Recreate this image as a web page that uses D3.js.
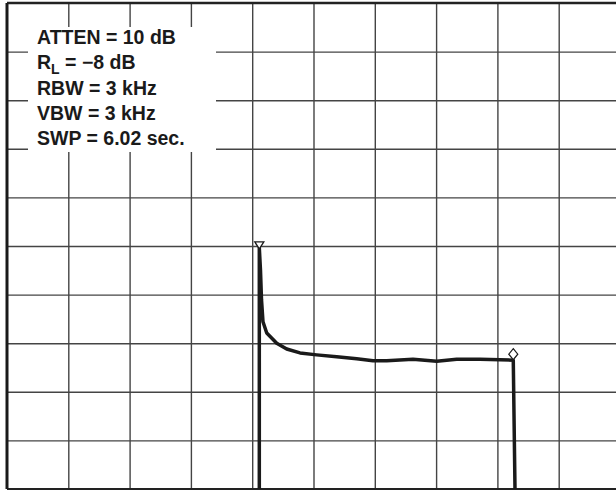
<!DOCTYPE html>
<html>
<head>
<meta charset="utf-8">
<script src="https://cdn.jsdelivr.net/npm/d3@7.9.0/dist/d3.min.js"></script>
<style>
  html, body { margin: 0; padding: 0; background: #fff; }
  svg { display: block; }
  .info { font-family: "Liberation Sans", Arial, Helvetica, sans-serif; font-weight: bold; font-size: 19.5px; fill: #1a1a1a; }
</style>
</head>
<body>
<svg id="chart" width="616" height="491"></svg>
<script>
// ---- data ----
// frequency in divisions (0..10), amplitude in dB (ref level -8 dB, 10 dB/div)
const traceX = [4.116, 4.116, 4.135, 4.152, 4.176, 4.237, 4.400, 4.563, 4.780, 5.052, 5.378, 5.705, 5.971, 6.194, 6.623, 7.010, 7.336, 7.716, 8.259, 8.287];
const traceDb = [-108, -58.4, -62.9, -69.1, -73.6, -75.9, -78.0, -79.2, -80.0, -80.4, -80.8, -81.2, -81.6, -81.6, -81.3, -81.7, -81.3, -81.3, -81.5, -108];
const markerPeak = { x: 4.116, db: -58.4 };   // ▽ marker
const markerDelta = { x: 8.259, db: -81.5 };  // ◇ marker
const infoLines = ['ATTEN = 10 dB', 'R|L| = \u22128 dB', 'RBW = 3 kHz', 'VBW = 3 kHz', 'SWP = 6.02 sec.'];
const refLevel = -8, dbPerDiv = 10, nDiv = 10;

// ---- scales ----
const svg = d3.select('#chart');
const mLeft = 7, mRight = 620, mTop = 3, mBottom = 489;
const x = d3.scaleLinear().domain([0, nDiv]).range([mLeft, mRight]);
const y = d3.scaleLinear().domain([refLevel - dbPerDiv * nDiv, refLevel]).range([mBottom, mTop]);
const yTicks = d3.range(0, nDiv + 1).map(i => refLevel - i * dbPerDiv);

// grid (axes with full-length ticks)
svg.append('g').attr('transform', `translate(0,${mBottom})`)
  .call(d3.axisBottom(x).tickValues(d3.range(1, nDiv)).tickSize(-(mBottom - mTop)).tickFormat(''));
svg.append('g').attr('transform', `translate(${mLeft},0)`)
  .call(d3.axisLeft(y).tickValues(yTicks.slice(1, -1)).tickSize(-(mRight - mLeft)).tickFormat(''));
svg.selectAll('.domain').remove();
svg.selectAll('.tick line').attr('stroke', '#444').attr('stroke-width', 1.4);

// frame
svg.append('line').attr('x1', mLeft).attr('x2', mRight).attr('y1', mTop).attr('y2', mTop)
  .attr('stroke', '#222').attr('stroke-width', 2.5);
svg.append('line').attr('x1', mLeft).attr('x2', mRight).attr('y1', mBottom).attr('y2', mBottom)
  .attr('stroke', '#222').attr('stroke-width', 2);
svg.append('line').attr('x1', mLeft).attr('x2', mLeft).attr('y1', mTop).attr('y2', mBottom)
  .attr('stroke', '#1a1a1a').attr('stroke-width', 3);

// info box
svg.append('rect').attr('x', 28).attr('y', 27).attr('width', 188).attr('height', 125).attr('fill', '#fff');
const info = svg.append('g').attr('class', 'info');
infoLines.forEach((s, i) => {
  const t = info.append('text').attr('x', 37).attr('y', 44 + i * 25.3);
  const parts = s.split('|');
  if (parts.length === 1) { t.text(s); return; }
  t.append('tspan').text(parts[0]);
  t.append('tspan').attr('dy', 5).attr('font-size', 14).text(parts[1]);
  t.append('tspan').attr('dy', -5).text(parts[2]);
});

// trace
svg.append('path').datum(traceX)
  .attr('d', d3.line().x((d, i) => x(traceX[i])).y((d, i) => y(traceDb[i])).curve(d3.curveLinear))
  .attr('fill', 'none').attr('stroke', '#1a1a1a').attr('stroke-width', 3.5)
  .attr('stroke-linejoin', 'round');

// markers
const px = x(markerPeak.x), py = y(markerPeak.db);
svg.append('path')
  .attr('d', `M${px - 4.5},${py - 6} L${px + 4.5},${py - 6} L${px},${py + 1} Z`)
  .attr('fill', '#fff').attr('stroke', '#1a1a1a').attr('stroke-width', 1.3);
const dx = x(markerDelta.x), dy = y(markerDelta.db) - 6;
svg.append('path')
  .attr('d', `M${dx},${dy - 5.5} L${dx + 4.5},${dy} L${dx},${dy + 5.5} L${dx - 4.5},${dy} Z`)
  .attr('fill', '#fff').attr('stroke', '#1a1a1a').attr('stroke-width', 1.2);
</script>
</body>
</html>
